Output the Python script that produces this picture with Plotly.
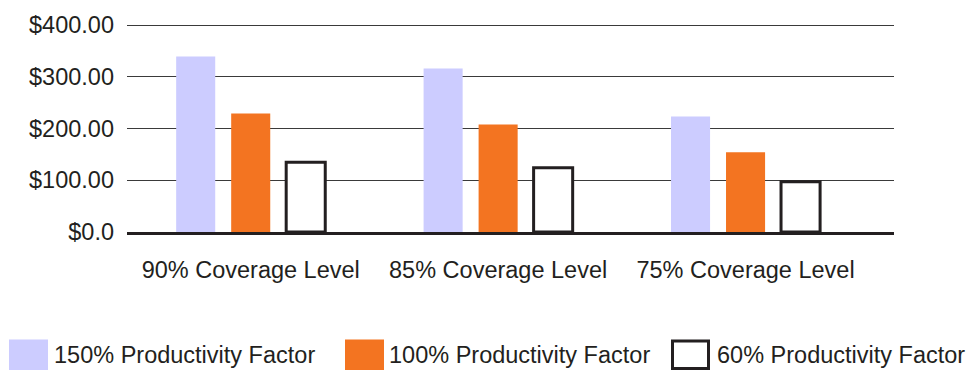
import plotly.graph_objects as go

# Premium per coverage level under three productivity factors
categories = ["90% Coverage Level", "85% Coverage Level", "75% Coverage Level"]
series_names = ["150% Productivity Factor", "100% Productivity Factor", "60% Productivity Factor"]
values_150 = [339, 316, 223]
values_100 = [229, 208, 154]
values_60 = [135, 124, 97]
tick_values = [0, 100, 200, 300, 400]
tick_labels = ["$0.0", "$100.00", "$200.00", "$300.00", "$400.00"]

W, H = 972, 373
L, R, T, B = 127, 78, 21, 141
INK = "#231f20"
FONT = "Liberation Sans, Arial, Helvetica, sans-serif"
FS = 23.5

styles = [
    dict(color="#ccccff", line=dict(width=0)),
    dict(color="#f37421", line=dict(width=0)),
    dict(color="#ffffff", line=dict(width=3, color=INK)),
]

fig = go.Figure()
for name, vals, st in zip(series_names, [values_150, values_100, values_60], styles):
    fig.add_trace(go.Bar(x=categories, y=vals, name=name, marker=st, showlegend=False))

# pixel -> paper helpers for the hand-built legend below the chart
pw, ph = W - L - R, H - T - B
def px(x):
    return (x - L) / pw
def py(y):
    return (H - B - y) / ph

legend_items = [(9, 52), (345, 387), (671, 715)]
shapes, annotations = [], []
for (sx, tx), name, st in zip(legend_items, series_names, styles):
    lw = st["line"]["width"]
    shapes.append(dict(
        type="rect", xref="paper", yref="paper",
        x0=px(sx + lw / 2), x1=px(sx + 39 - lw / 2),
        y0=py(372 - lw / 2), y1=py(341 + lw / 2),
        fillcolor=st["color"],
        line=dict(width=lw, color=INK) if lw else dict(width=0),
    ))
    annotations.append(dict(
        xref="paper", yref="paper", x=px(tx), y=py(357),
        text=name, showarrow=False, xanchor="left", yanchor="middle",
        font=dict(size=FS, color=INK, family=FONT),
    ))

fig.update_layout(
    width=W, height=H,
    margin=dict(l=L, r=R, t=T, b=B),
    paper_bgcolor="white", plot_bgcolor="white",
    barmode="group", bargap=0.333, bargroupgap=0.29,
    font=dict(family=FONT, size=FS, color=INK),
    shapes=shapes, annotations=annotations,
    xaxis=dict(
        type="category", range=[-0.5, 2.6],
        showgrid=False, showline=True, linecolor=INK, linewidth=3,
        ticks="", ticklabelstandoff=15,
        tickfont=dict(size=FS, color=INK),
    ),
    yaxis=dict(
        range=[0, 402], tickvals=tick_values, ticktext=tick_labels,
        showgrid=True, gridcolor="#3a3a3a", gridwidth=1,
        zeroline=False, showline=False, ticks="", ticklabelstandoff=12,
        tickfont=dict(size=FS, color=INK),
    ),
)

fig.write_html("out.html")
